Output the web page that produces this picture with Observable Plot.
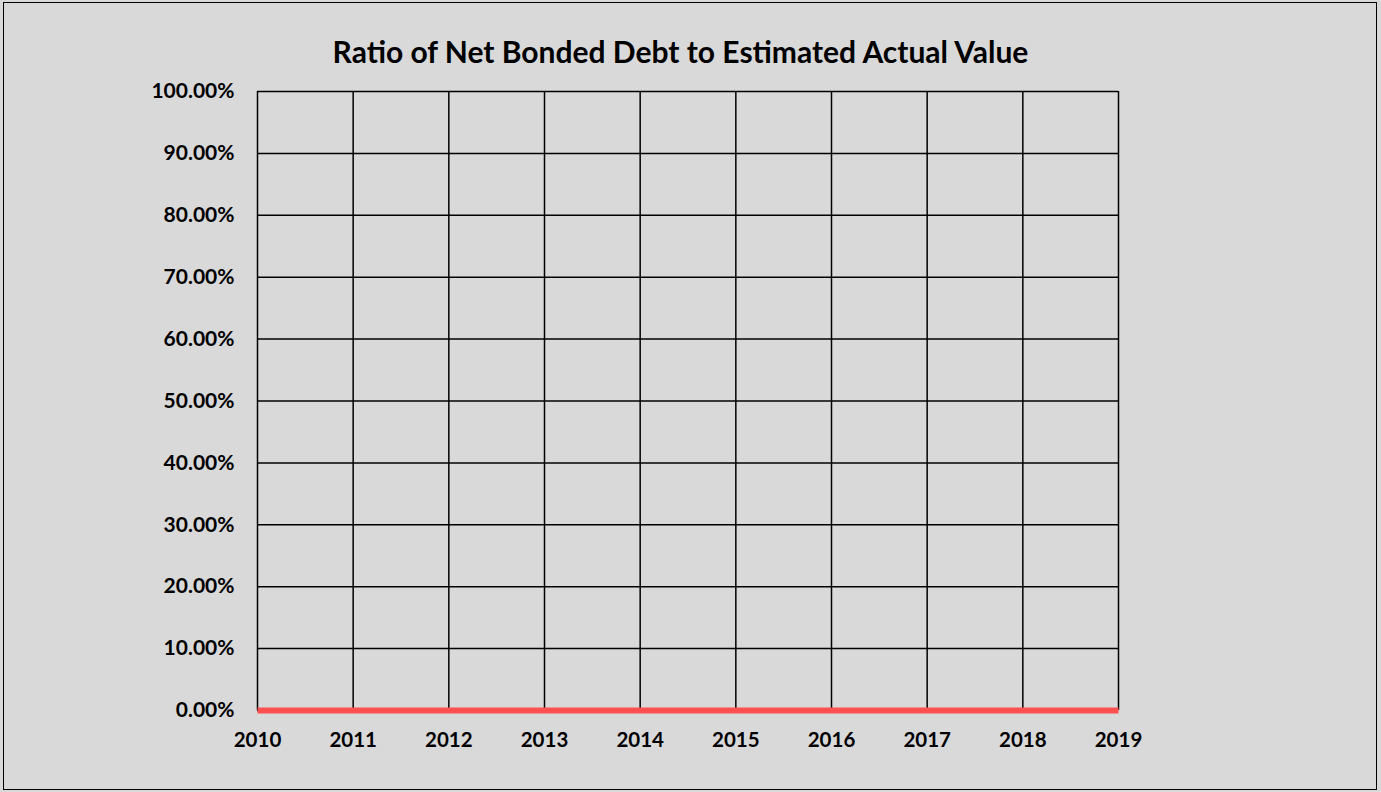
<!DOCTYPE html>
<html>
<head>
<meta charset="utf-8">
<script src="https://cdn.jsdelivr.net/npm/d3@7"></script>
<script src="https://cdn.jsdelivr.net/npm/@observablehq/plot@0.6"></script>
<style>
  html, body { margin: 0; padding: 0; background: #d9d9d9; }
  #wrap { position: relative; width: 1381px; height: 792px; background: #d9d9d9; overflow: hidden; }
  #frame { position: absolute; left: 3px; top: 2px; width: 1372px; height: 786px; border: 1.5px solid #000; pointer-events: none; }
  #title { height: 75px; margin: 0; padding-top: 36px; box-sizing: border-box; text-align: center; font-family: Lato, sans-serif; font-weight: bold; font-size: 30px; line-height: 30px; color: #000; white-space: nowrap; }
  #title span { position: relative; left: -10px; }
  #chart svg { display: block; }
</style>
</head>
<body>
<div id="wrap">
  <div id="title"><span>Ratio of Net Bonded Debt to Estimated Actual Value</span></div>
  <div id="chart"></div>
  <div id="frame"></div>
</div>
<script>
const years = [2010, 2011, 2012, 2013, 2014, 2015, 2016, 2017, 2018, 2019];
const ratios = [0, 0, 0, 0, 0, 0, 0, 0, 0, 0];
const yTicks = [0, 0.1, 0.2, 0.3, 0.4, 0.5, 0.6, 0.7, 0.8, 0.9, 1.0];

const data = years.map((y, i) => ({year: y, ratio: ratios[i]}));

const chart = Plot.plot({
  width: 1381,
  height: 717,
  marginTop: 16,
  marginBottom: 82,
  marginLeft: 257,
  marginRight: 263,
  style: {background: "#d9d9d9", fontFamily: "Lato, sans-serif", fontWeight: "bold", fontSize: "20px", color: "#000"},
  x: {domain: [2010, 2019], ticks: years, tickFormat: d => String(d), label: null},
  y: {domain: [0, 1], ticks: yTicks, tickFormat: d3.format(".2%"), label: null},
  marks: [
    Plot.gridX(years, {stroke: "#000", strokeOpacity: 1, strokeWidth: 1.5}),
    Plot.gridY(yTicks, {stroke: "#000", strokeOpacity: 1, strokeWidth: 1.5}),
    Plot.axisX({ticks: years, tickFormat: d => String(d), tickSize: 0, tickPadding: 22, label: null, fontSize: 20.5, fontWeight: "bold"}),
    Plot.axisY({ticks: yTicks, tickFormat: d3.format(".2%"), tickSize: 0, tickPadding: 23, label: null, fontSize: 21, fontWeight: "bold"}),
    Plot.line(data, {x: "year", y: "ratio", stroke: "#ff5050", strokeWidth: 6, strokeLinecap: "butt"})
  ]
});
document.getElementById("chart").appendChild(chart);
</script>
</body>
</html>
